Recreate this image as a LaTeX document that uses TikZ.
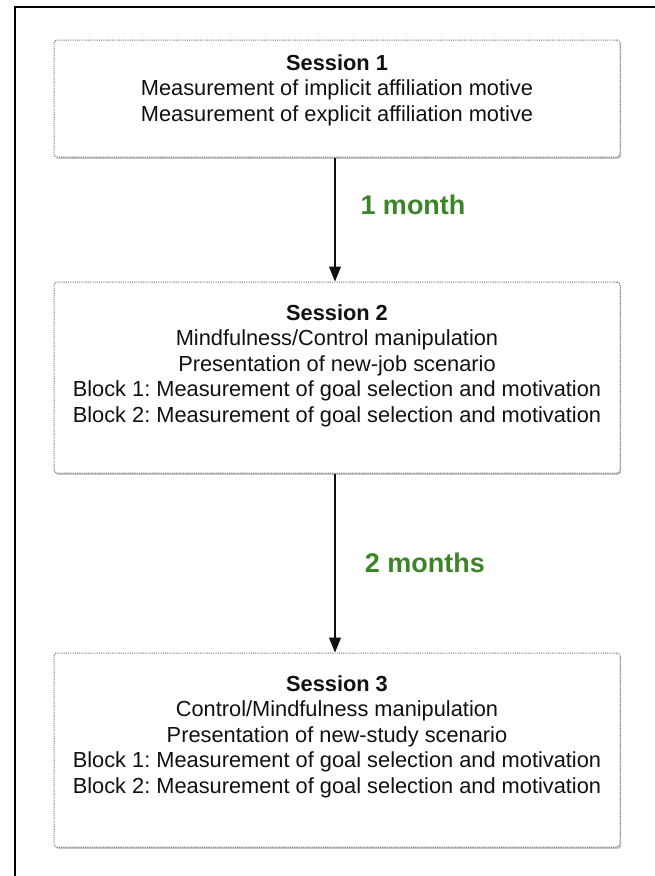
\documentclass[tikz,border=0pt]{standalone}
\usepackage{fontspec}
\setmainfont{Liberation Sans}
\frenchspacing
\usetikzlibrary{positioning,arrows.meta,shadows}
\definecolor{ink}{HTML}{111111}
\definecolor{dots}{HTML}{777777}
\definecolor{gap}{HTML}{3b8526}
\tikzset{
  sess/.style={draw=dots,dash pattern=on 1.1pt off 1.1pt,line width=1pt,rounded corners=3pt,fill=white,
    minimum width=566pt,inner sep=0pt,
    drop shadow={shadow xshift=1.2pt,shadow yshift=-1.8pt,fill=black,opacity=0.22}},
  txt/.style={anchor=north,align=center,inner sep=0pt,text=ink,font=\fontsize{21.8}{25.5}\selectfont},
  arr/.style={-{Triangle[length=15pt,width=12pt]},line width=1.1pt,draw=ink},
  lab/.style={font=\fontsize{27}{30}\selectfont\bfseries,text=gap},
  frame/.style={line width=1.5pt,draw=black},
}
\begin{document}
\begin{tikzpicture}[x=1pt,y=-1pt]
\useasboundingbox (0,0) rectangle (655,876);
\draw[frame] (15,876) -- (15,7) -- (655,7);
% session boxes
\node[sess,minimum height=117pt] (s1) at (337,98.5) {};
\node[sess,minimum height=191pt] (s2) at (337,377.5) {};
\node[sess,minimum height=194pt] (s3) at (337,750) {};
\node[txt] (t1) at (337,54) {\textbf{Session 1}\\Measurement of implicit affiliation motive\\Measurement of explicit affiliation motive};
\node[txt] (t2) at (337,304) {\textbf{Session 2}\\Mindfulness/Control manipulation\\Presentation of new-job scenario\\Block 1: Measurement of goal selection and motivation\\Block 2: Measurement of goal selection and motivation};
\node[txt] (t3) at (337,675) {\textbf{Session 3}\\Control/Mindfulness manipulation\\Presentation of new-study scenario\\Block 1: Measurement of goal selection and motivation\\Block 2: Measurement of goal selection and motivation};
% time between sessions
\draw[arr] ([xshift=-2pt]s1.south) -- ([xshift=-2pt]s2.north);
\draw[arr] ([xshift=-2pt]s2.south) -- ([xshift=-2pt]s3.north);
\node[lab] (m1) at (413,205) {1 month};
\node[lab] (m2) at (425,563) {2 months};
\end{tikzpicture}
\end{document}
